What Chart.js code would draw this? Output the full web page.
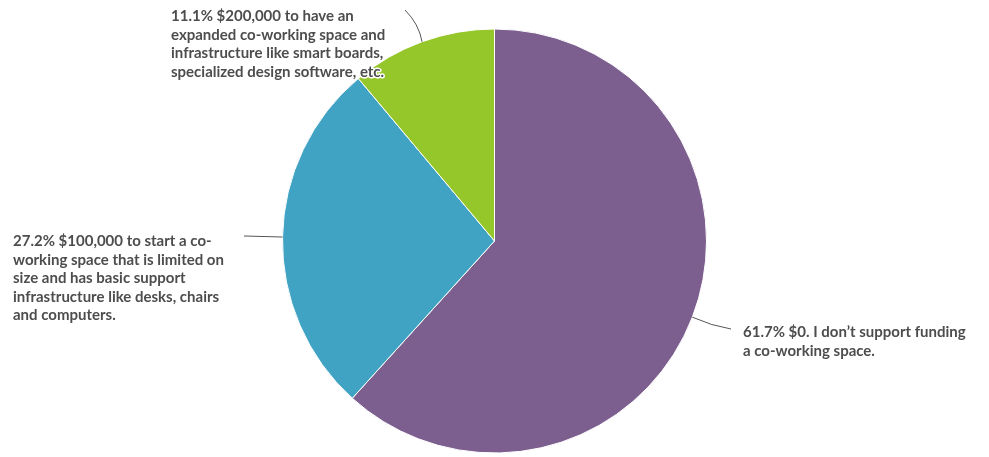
<!DOCTYPE html>
<html>
<head>
<meta charset="utf-8">
<script src="https://cdn.jsdelivr.net/npm/chart.js@4"></script>
<style>
  html, body { margin: 0; padding: 0; background: #fff; }
  #wrap { width: 989px; height: 457px; }
</style>
</head>
<body>
<div id="wrap"><canvas id="fundingPie" width="989" height="457"></canvas></div>
<script>
// 응답 항목 (줄바꿈 단위로 나눔)
const categories = [
  ['$0. I don’t support funding', 'a co-working space.'],
  ['$100,000 to start a co-', 'working space that is limited on', 'size and has basic support', 'infrastructure like desks, chairs', 'and computers.'],
  ['$200,000 to have an', 'expanded co-working space and', 'infrastructure like smart boards,', 'specialized design software, etc.']
];
const shares = [61.7, 27.2, 11.1];
const colors = ['#7c5f8e', '#41a3c3', '#96c72a'];

// 라벨 위치: 선 끝점, 글자 시작 x, 첫 줄 baseline, 선 굽힘 제어점
const labelPos = [
  { end: [731, 329], ctrl: [712, 326], x: 743, y: 337 },
  { end: [244, 236], ctrl: null, x: 13, y: 246 },
  { end: [405, 10], ctrl: [419, 24], x: 171, y: 21 }
];
const lineGap = 18.5;

const outsideLabels = {
  id: 'outsideLabels',
  afterDraw(chart) {
    const ctx = chart.ctx;
    const arcs = chart.getDatasetMeta(0).data;
    ctx.save();
    arcs.forEach((arc, i) => {
      const { x, y, startAngle, endAngle, outerRadius } = arc.getProps(['x', 'y', 'startAngle', 'endAngle', 'outerRadius'], true);
      const mid = (startAngle + endAngle) / 2;
      const sx = x + Math.cos(mid) * outerRadius;
      const sy = y + Math.sin(mid) * outerRadius;
      const p = labelPos[i];

      // 연결선
      ctx.beginPath();
      ctx.strokeStyle = '#555';
      ctx.lineWidth = 1;
      ctx.moveTo(sx, sy);
      if (p.ctrl) ctx.quadraticCurveTo(p.ctrl[0], p.ctrl[1], p.end[0], p.end[1]);
      else ctx.lineTo(p.end[0], p.end[1]);
      ctx.stroke();

      // 라벨 텍스트 (흰 테두리)
      const lines = categories[i].slice();
      lines[0] = shares[i].toFixed(1) + '% ' + lines[0];
      ctx.font = 'bold 15px Lato, "Open Sans", sans-serif';
      ctx.textAlign = 'left';
      ctx.textBaseline = 'alphabetic';
      ctx.lineJoin = 'round';
      lines.forEach((t, j) => {
        const ty = p.y + j * lineGap;
        ctx.strokeStyle = '#fff';
        ctx.lineWidth = 3;
        ctx.strokeText(t, p.x, ty);
        ctx.fillStyle = '#4d4d4d';
        ctx.fillText(t, p.x, ty);
      });
    });
    ctx.restore();
  }
};

new Chart(document.getElementById('fundingPie'), {
  type: 'pie',
  data: {
    labels: categories,
    datasets: [{
      data: shares,
      backgroundColor: colors,
      borderColor: '#fff',
      borderWidth: 1,
      hoverOffset: 0
    }]
  },
  options: {
    responsive: false,
    animation: false,
    layout: { padding: { top: 28, bottom: 3, left: 282, right: 282 } },
    plugins: {
      legend: { display: false },
      tooltip: { enabled: false }
    }
  },
  plugins: [outsideLabels]
});
</script>
</body>
</html>
